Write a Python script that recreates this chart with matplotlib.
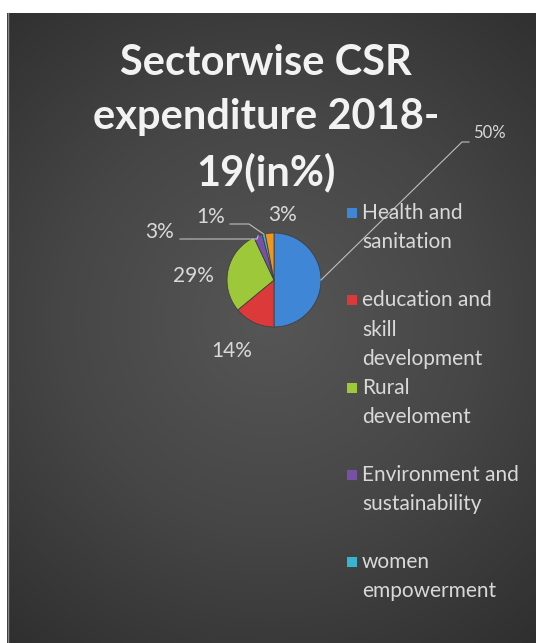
import numpy as np
import matplotlib.pyplot as plt
from matplotlib.colors import LinearSegmentedColormap

# data
sectors = ['Health and\nsanitation', 'education and\nskill\ndevelopment', 'Rural\ndeveloment',
           'Environment and\nsustainability', 'women\nempowerment', 'others']
values = [50, 14, 29, 3, 1, 3]
colors = ['#3f86d6', '#dc3a3a', '#9cc83a', '#7651a6', '#38b4cf', '#f0961e']
title = 'Sectorwise CSR\nexpenditure 2018-\n19(in%)'

W, H = 536, 643
fig = plt.figure(figsize=(W / 100, H / 100), dpi=100)
fig.patch.set_facecolor('white')
ax = fig.add_axes([0, 0, 1, 1])

def Y(y):
    return H - y

# dark radial background
gx, gy = np.meshgrid(np.linspace(7, W, 300), np.linspace(13, H, 360))
r = np.sqrt((gx - 270) ** 2 + (gy - 320) ** 2) / 420
bg = LinearSegmentedColormap.from_list('bg', ['#565656', '#464646', '#2f2f2f'])
ax.imshow(np.clip(r, 0, 1), cmap=bg, vmin=0, vmax=1, extent=(7, W, Y(H), Y(13)),
          origin='upper', aspect='auto', zorder=0)
ax.plot([7.5, 7.5], [Y(13), Y(H)], color='#8a8a8a', lw=1, zorder=1)

cx, cy, rad = 274, 280, 47
wedges, _ = ax.pie(values, colors=colors, startangle=90, counterclock=False,
                   center=(cx, Y(cy)), radius=rad,
                   wedgeprops=dict(edgecolor='#404040', linewidth=0.6))
for w in wedges:
    w.set_zorder(3)

ax.set_xlim(0, W)
ax.set_ylim(0, H)
ax.set_aspect('auto')
ax.axis('off')

# title
ax.text(266, Y(118), title, ha='center', va='center', fontsize=30, fontweight='bold',
        family='Lato', color='#f2f2f2', linespacing=1.5, zorder=5)

# data labels
lab_pos = [(489, 133), (232, 351), (193, 276), (160, 232), (211, 217), (283, 215)]
lab_size = [12, 15, 15, 15, 15, 15]
cum = np.cumsum([0] + values[:-1])
for i, v in enumerate(values):
    mid = np.deg2rad(90 - (cum[i] + v / 2) * 3.6)
    ex, ey = cx + rad * np.cos(mid), cy - rad * np.sin(mid)
    lx, ly = lab_pos[i]
    ax.text(lx, Y(ly), f'{v}%', ha='center', va='center', fontsize=lab_size[i],
            family='Lato', color='#d9d9d9', zorder=5)
    if i == 0:
        ax.plot([ex, 462, 469], [Y(ey), Y(142), Y(142)], color='#bfbfbf', lw=0.8, zorder=4)
    elif i == 3:
        ax.plot([180, 257, ex], [Y(239), Y(239), Y(ey)], color='#bfbfbf', lw=0.8, zorder=4)
    elif i == 4:
        ax.plot([230, 249, ex], [Y(224), Y(224), Y(ey)], color='#bfbfbf', lw=0.8, zorder=4)

# legend (first five entries shown)
for i in range(5):
    ty = 213 + i * 87.3
    ax.add_patch(plt.Rectangle((347, Y(ty) - 5), 10, 10, facecolor=colors[i],
                               edgecolor='none', zorder=5))
    ax.text(362, Y(ty - 10), sectors[i], ha='left', va='top', fontsize=15, family='Lato',
            color='#d9d9d9', linespacing=1.58, zorder=5)

fig.savefig('out.png', dpi=100, facecolor=fig.get_facecolor())
